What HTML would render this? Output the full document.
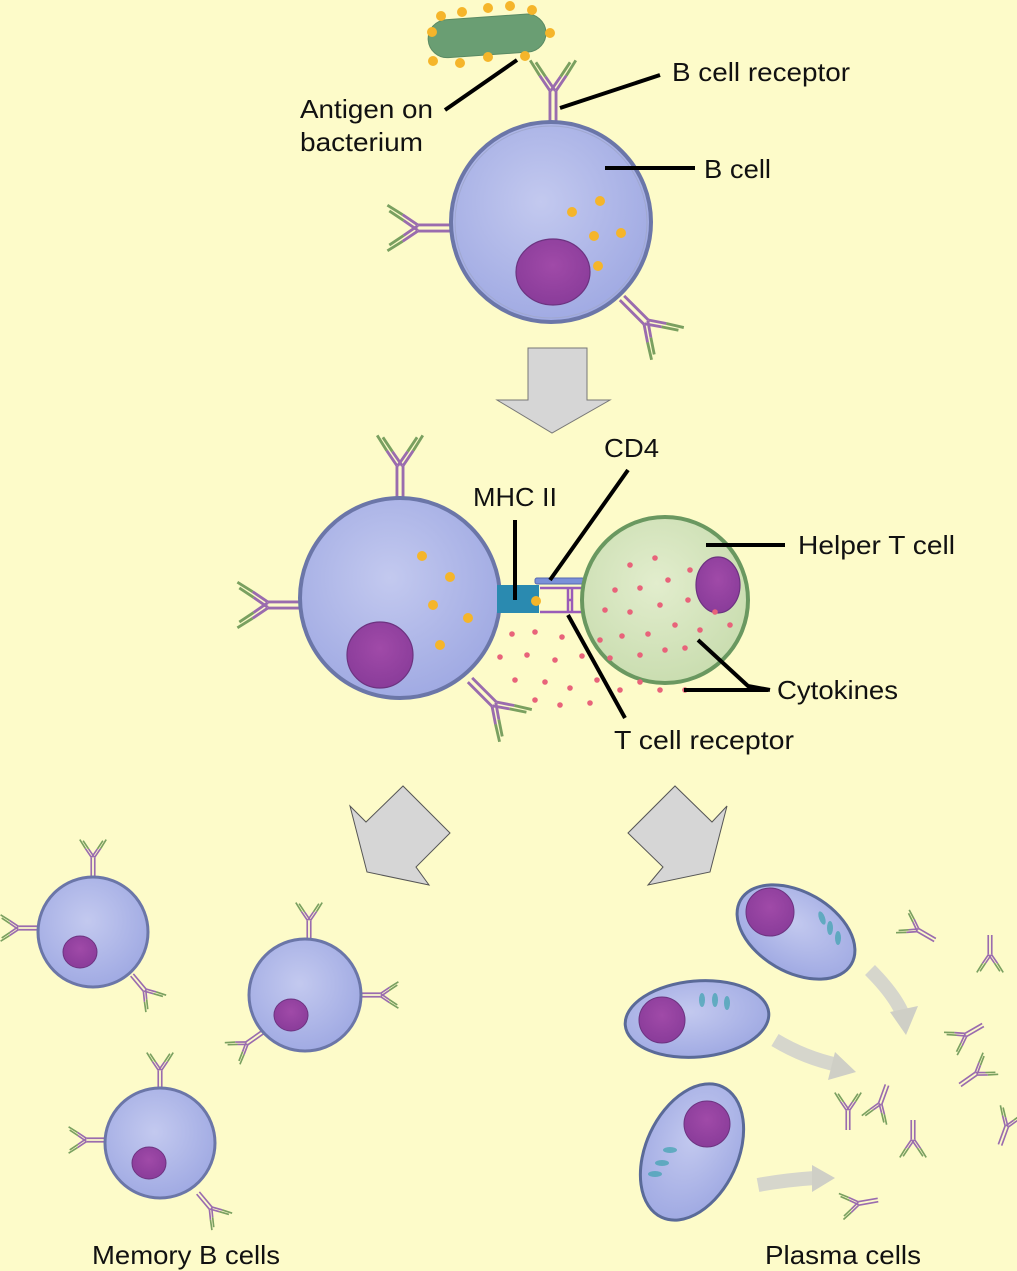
<!DOCTYPE html>
<html><head><meta charset="utf-8"><style>
html,body{margin:0;padding:0;background:#fdfbc9;}
svg{display:block;}
text{font-family:"Liberation Sans",sans-serif;font-size:26px;fill:#111;}
</style></head><body>
<svg width="1017" height="1271" viewBox="0 0 1017 1271" xmlns="http://www.w3.org/2000/svg">
<defs>
<radialGradient id="bc" cx="0.45" cy="0.4" r="0.65">
<stop offset="0" stop-color="#c3c9ef"/><stop offset="1" stop-color="#9ea8e2"/></radialGradient>
<radialGradient id="nu" cx="0.5" cy="0.4" r="0.6">
<stop offset="0" stop-color="#a04aa8"/><stop offset="1" stop-color="#8a3c9a"/></radialGradient>
<radialGradient id="tc" cx="0.45" cy="0.4" r="0.65">
<stop offset="0" stop-color="#e2edcd"/><stop offset="1" stop-color="#c8dcae"/></radialGradient>
<g id="ab" fill="none" stroke-width="1.5">
<path d="M-1.6 0 V-18 M1.6 0 V-18" stroke="#9a6cae"/>
<path d="M-1.6 -18 L-7 -26 M1.2 -18 L-4 -25.5 M1.6 -18 L7 -26 M-1.2 -18 L4 -25.5" stroke="#9a6cae"/>
<path d="M-7 -26 L-12 -34 M-4 -25.5 L-9 -33 M7 -26 L12 -34 M4 -25.5 L9 -33" stroke="#7aa060"/>
</g>
</defs>
<rect width="1017" height="1271" fill="#fdfbc9"/>

<g transform="rotate(-4 485 35)">
<rect x="428" y="17" width="118" height="38" rx="19" fill="#6a9e73" stroke="#5a8a63"/>
</g>
<g fill="#f5b52a">
<circle cx="432" cy="32" r="5"/><circle cx="441" cy="16" r="5"/><circle cx="462" cy="12" r="5"/><circle cx="488" cy="8" r="5"/><circle cx="510" cy="6" r="5"/><circle cx="532" cy="10" r="5"/><circle cx="550" cy="33" r="5"/><circle cx="433" cy="61" r="5"/><circle cx="460" cy="63" r="5"/><circle cx="488" cy="57" r="5"/><circle cx="525" cy="56" r="5"/>
</g>

<use href="#ab" transform="translate(553,125) scale(1.9)"/>
<use href="#ab" transform="translate(452,228) rotate(-90) scale(1.9)"/>
<use href="#ab" transform="translate(622,298) rotate(135) scale(1.9)"/>
<circle cx="551" cy="222" r="100" fill="url(#bc)" stroke="#6b76a8" stroke-width="4"/>
<circle cx="551" cy="222" r="96" fill="none" stroke="#a0a8d0" stroke-width="1"/>
<ellipse cx="553" cy="272" rx="37" ry="33" fill="url(#nu)" stroke="#6c3380" stroke-width="1.2"/>
<g fill="#f5b52a"><circle cx="572" cy="212" r="5"/><circle cx="600" cy="201" r="5"/><circle cx="594" cy="236" r="5"/><circle cx="621" cy="233" r="5"/><circle cx="598" cy="266" r="5"/></g>

<g stroke="#000" stroke-width="4">
<line x1="445" y1="110" x2="517" y2="60"/>
<line x1="560" y1="108" x2="660" y2="75"/>
<line x1="605" y1="168" x2="695" y2="168"/>
</g>
<text x="300" y="118" textLength="133" lengthAdjust="spacingAndGlyphs">Antigen on</text>
<text x="300" y="151" textLength="123" lengthAdjust="spacingAndGlyphs">bacterium</text>
<text x="672" y="81" textLength="178" lengthAdjust="spacingAndGlyphs">B cell receptor</text>
<text x="704" y="178" textLength="67" lengthAdjust="spacingAndGlyphs">B cell</text>

<polygon points="528,348 587,348 587,400 610,400 552,433 497,400 528,400" fill="#d6d6d6" stroke="#777" stroke-width="1"/>

<use href="#ab" transform="translate(400,500) scale(1.9)"/>
<use href="#ab" transform="translate(302,605) rotate(-90) scale(1.9)"/>
<use href="#ab" transform="translate(470,680) rotate(135) scale(1.9)"/>
<circle cx="400" cy="598" r="100" fill="url(#bc)" stroke="#6b76a8" stroke-width="4"/>
<ellipse cx="380" cy="655" rx="33" ry="33" fill="url(#nu)" stroke="#6c3380" stroke-width="1.2"/>
<g fill="#f5b52a"><circle cx="422" cy="556" r="5"/><circle cx="450" cy="577" r="5"/><circle cx="433" cy="605" r="5"/><circle cx="468" cy="618" r="5"/><circle cx="440" cy="645" r="5"/></g>

<rect x="497" y="585" width="42" height="28" fill="#2a8ab0"/>
<circle cx="536" cy="601" r="5" fill="#f5b52a"/>
<rect x="535" y="578" width="49" height="6" rx="2" fill="#7a90d8" stroke="#5668b0" stroke-width="1"/>
<g stroke="#9a5cb8" stroke-width="2.5" fill="none">
<path d="M540 588 H584 M540 612 H584 M568 588 V612 M572 588 V612 M568 600 H572"/>
</g>

<circle cx="665" cy="600" r="83" fill="url(#tc)" stroke="#6a9860" stroke-width="4"/>
<ellipse cx="718" cy="585" rx="22" ry="28" fill="url(#nu)" stroke="#6c3380" stroke-width="1.2"/>
<g fill="#e8637a">
<circle cx="630" cy="565" r="2.8"/><circle cx="655" cy="558" r="2.8"/><circle cx="615" cy="590" r="2.8"/><circle cx="640" cy="588" r="2.8"/><circle cx="668" cy="580" r="2.8"/><circle cx="690" cy="570" r="2.8"/><circle cx="605" cy="610" r="2.8"/><circle cx="630" cy="612" r="2.8"/><circle cx="660" cy="605" r="2.8"/><circle cx="688" cy="600" r="2.8"/><circle cx="700" cy="630" r="2.8"/><circle cx="622" cy="636" r="2.8"/><circle cx="648" cy="634" r="2.8"/><circle cx="675" cy="625" r="2.8"/><circle cx="640" cy="655" r="2.8"/><circle cx="665" cy="650" r="2.8"/><circle cx="685" cy="648" r="2.8"/><circle cx="610" cy="658" r="2.8"/><circle cx="730" cy="625" r="2.8"/><circle cx="715" cy="612" r="2.8"/>
<circle cx="512" cy="634" r="2.8"/><circle cx="535" cy="632" r="2.8"/><circle cx="562" cy="637" r="2.8"/><circle cx="500" cy="657" r="2.8"/><circle cx="527" cy="655" r="2.8"/><circle cx="555" cy="660" r="2.8"/><circle cx="582" cy="656" r="2.8"/><circle cx="600" cy="640" r="2.8"/><circle cx="515" cy="680" r="2.8"/><circle cx="545" cy="682" r="2.8"/><circle cx="570" cy="688" r="2.8"/><circle cx="597" cy="680" r="2.8"/><circle cx="620" cy="690" r="2.8"/><circle cx="640" cy="682" r="2.8"/><circle cx="660" cy="690" r="2.8"/><circle cx="560" cy="705" r="2.8"/><circle cx="590" cy="703" r="2.8"/><circle cx="535" cy="700" r="2.8"/><circle cx="685" cy="690" r="2.8"/>
</g>

<g stroke="#000" stroke-width="4" fill="none">
<line x1="515" y1="520" x2="515" y2="600"/>
<line x1="550" y1="580" x2="628" y2="470"/>
<line x1="568" y1="615" x2="625" y2="718"/>
<line x1="706" y1="545" x2="785" y2="545"/>
<polyline points="698,640 748,686 770,690"/>
<line x1="684" y1="690" x2="768" y2="690"/>
</g>
<text x="473" y="506" textLength="84" lengthAdjust="spacingAndGlyphs">MHC II</text>
<text x="604" y="457" textLength="55" lengthAdjust="spacingAndGlyphs">CD4</text>
<text x="798" y="554" textLength="157" lengthAdjust="spacingAndGlyphs">Helper T cell</text>
<text x="777" y="699" textLength="121" lengthAdjust="spacingAndGlyphs">Cytokines</text>
<text x="614" y="749" textLength="180" lengthAdjust="spacingAndGlyphs">T cell receptor</text>

<polygon points="350,806 366,822 403,786 450,833 416,867 429,885 367,872" fill="#d6d6d6" stroke="#555" stroke-width="1"/>
<polygon points="628,833 675,786 712,822 727,806 710,872 648,885 663,867" fill="#d6d6d6" stroke="#555" stroke-width="1"/>

<use href="#ab" transform="translate(93,877) scale(1.1)"/>
<use href="#ab" transform="translate(38,928) rotate(-90) scale(1.1)"/>
<use href="#ab" transform="translate(132,975) rotate(140) scale(1.1)"/>
<circle cx="93" cy="932" r="55" fill="url(#bc)" stroke="#6b76a8" stroke-width="3"/>
<ellipse cx="80" cy="952" rx="17" ry="16" fill="url(#nu)" stroke="#6c3380"/>

<use href="#ab" transform="translate(309,940) scale(1.1)"/>
<use href="#ab" transform="translate(361,995) rotate(90) scale(1.1)"/>
<use href="#ab" transform="translate(263,1032) rotate(-125) scale(1.1)"/>
<circle cx="305" cy="995" r="56" fill="url(#bc)" stroke="#6b76a8" stroke-width="3"/>
<ellipse cx="291" cy="1015" rx="17" ry="16" fill="url(#nu)" stroke="#6c3380"/>

<use href="#ab" transform="translate(160,1090) scale(1.1)"/>
<use href="#ab" transform="translate(106,1140) rotate(-90) scale(1.1)"/>
<use href="#ab" transform="translate(198,1193) rotate(140) scale(1.1)"/>
<circle cx="160" cy="1143" r="55" fill="url(#bc)" stroke="#6b76a8" stroke-width="3"/>
<ellipse cx="149" cy="1163" rx="17" ry="16" fill="url(#nu)" stroke="#6c3380"/>
<text x="92" y="1264" textLength="188" lengthAdjust="spacingAndGlyphs">Memory B cells</text>

<g fill="none" stroke="#d6d6cc" stroke-width="14" stroke-linecap="butt">
<path d="M870 970 Q895 995 903 1015"/>
<path d="M775 1040 Q805 1058 838 1065"/>
<path d="M758 1185 Q785 1180 815 1178"/>
</g>
<g fill="#cfcfc6">
<polygon points="890,1012 918,1006 906,1035"/>
<polygon points="835,1052 856,1072 828,1080"/>
<polygon points="812,1165 835,1178 812,1192"/>
</g>
<ellipse cx="796" cy="932" rx="64" ry="40" transform="rotate(30 796 932)" fill="url(#bc)" stroke="#5a6a98" stroke-width="3"/>
<circle cx="770" cy="912" r="24" fill="url(#nu)" stroke="#6c3380"/>
<ellipse cx="697" cy="1019" rx="72" ry="38" transform="rotate(-5 697 1019)" fill="url(#bc)" stroke="#5a6a98" stroke-width="3"/>
<circle cx="662" cy="1020" r="23" fill="url(#nu)" stroke="#6c3380"/>
<ellipse cx="692" cy="1152" rx="46" ry="72" transform="rotate(25 692 1152)" fill="url(#bc)" stroke="#5a6a98" stroke-width="3"/>
<circle cx="707" cy="1124" r="23" fill="url(#nu)" stroke="#6c3380"/>
<g fill="#3ea3b0" opacity="0.7">
<ellipse cx="822" cy="918" rx="3" ry="7" transform="rotate(-20 822 918)"/><ellipse cx="830" cy="928" rx="3" ry="7"/><ellipse cx="838" cy="938" rx="3" ry="7"/>
<ellipse cx="702" cy="1000" rx="3" ry="7"/><ellipse cx="715" cy="1000" rx="3" ry="7"/><ellipse cx="727" cy="1003" rx="3" ry="7"/>
<ellipse cx="670" cy="1150" rx="7" ry="3"/><ellipse cx="662" cy="1163" rx="7" ry="3"/><ellipse cx="655" cy="1174" rx="7" ry="3"/>
</g>

<use href="#ab" transform="translate(935,940) rotate(-60) scale(1.1)"/>
<use href="#ab" transform="translate(990,935) rotate(180) scale(1.1)"/>
<use href="#ab" transform="translate(983,1025) rotate(240) scale(1.1)"/>
<use href="#ab" transform="translate(960,1085) rotate(55) scale(1.1)"/>
<use href="#ab" transform="translate(887,1085) rotate(200) scale(1.1)"/>
<use href="#ab" transform="translate(848,1130) rotate(0) scale(1.1)"/>
<use href="#ab" transform="translate(913,1120) rotate(180) scale(1.1)"/>
<use href="#ab" transform="translate(1000,1145) rotate(20) scale(1.1)"/>
<use href="#ab" transform="translate(878,1200) rotate(-100) scale(1.1)"/>
<text x="765" y="1264" textLength="156" lengthAdjust="spacingAndGlyphs">Plasma cells</text>
</svg>
</body></html>
